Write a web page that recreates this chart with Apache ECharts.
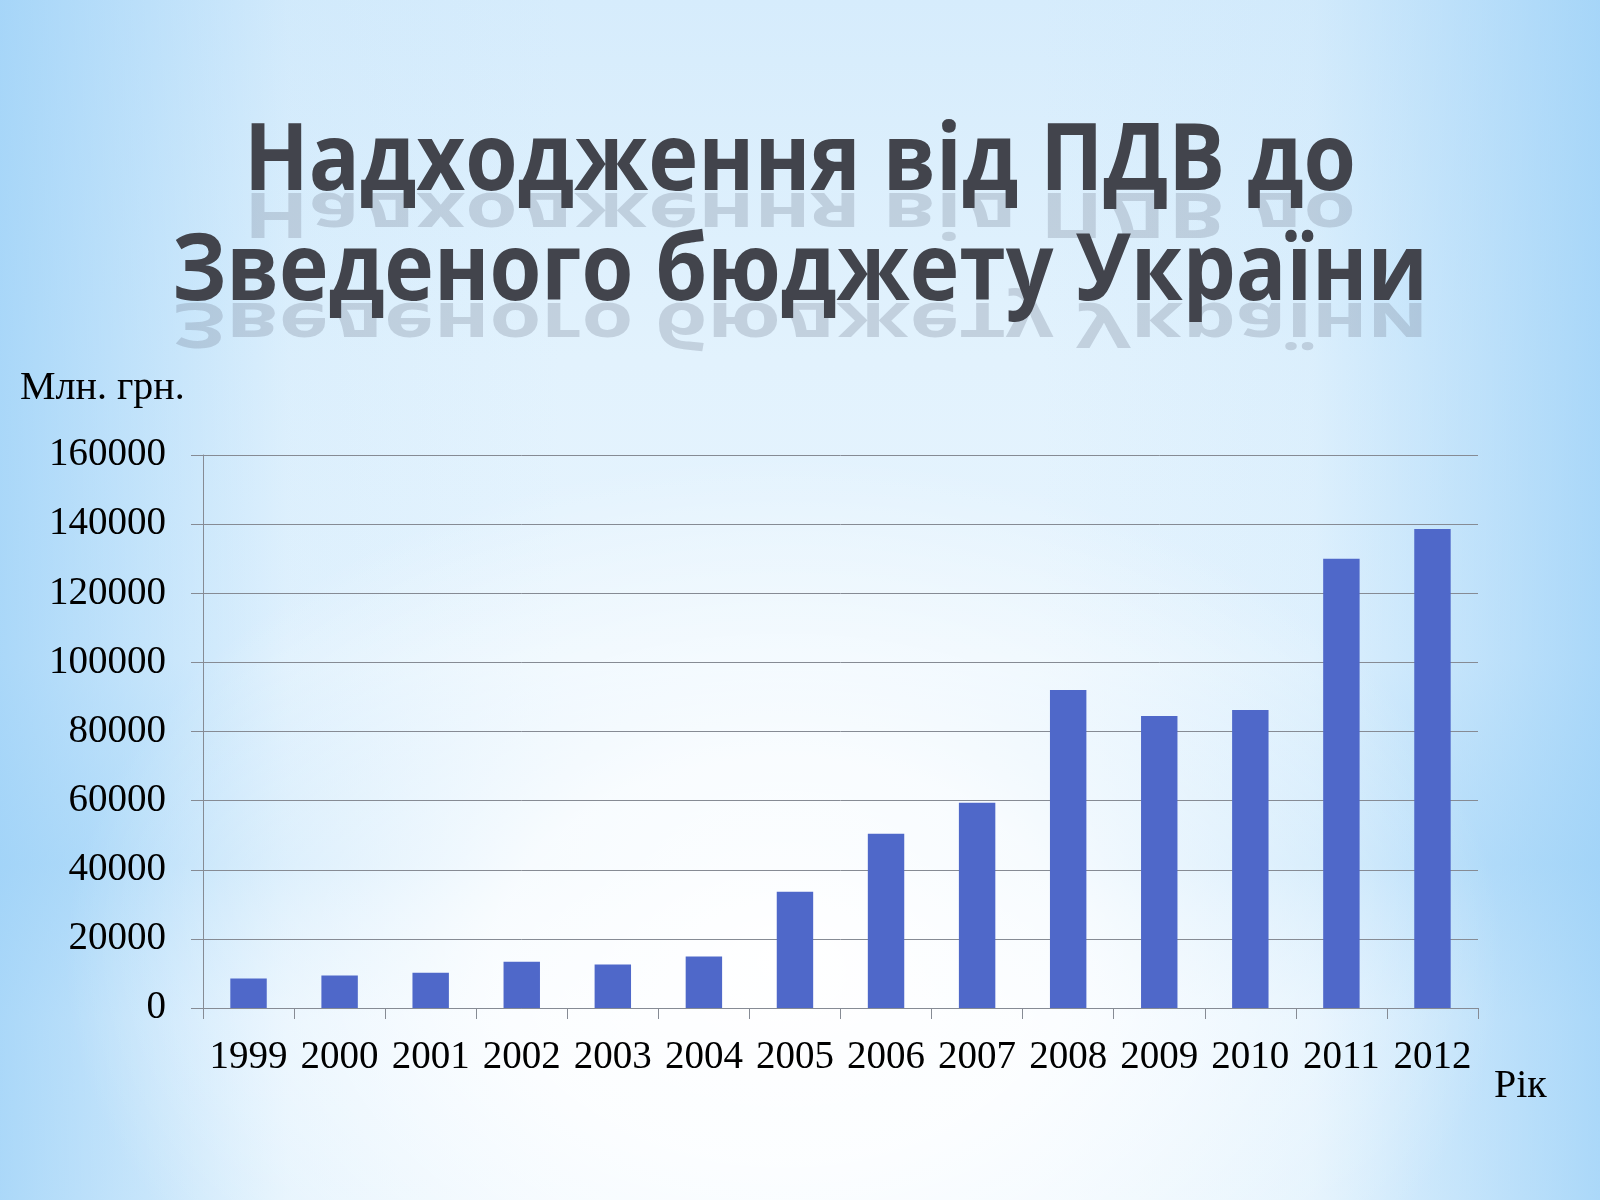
<!DOCTYPE html>
<html>
<head>
<meta charset="utf-8">
<script src="https://cdn.jsdelivr.net/npm/echarts@6/dist/echarts.min.js"></script>
<style>
html,body{margin:0;padding:0;width:1600px;height:1200px;overflow:hidden;}
body{background:
 radial-gradient(ellipse 45% 42% at 49% 80%, rgba(255,255,255,1) 0%, rgba(255,255,255,0.85) 40%, rgba(255,255,255,0) 100%),
 linear-gradient(90deg, rgba(150,206,247,0.75) 0%, rgba(190,225,250,0.2) 18%, rgba(255,255,255,0) 35%, rgba(255,255,255,0) 65%, rgba(190,225,250,0.2) 82%, rgba(150,206,247,0.75) 100%),
 linear-gradient(180deg, #d6ecfc 0%, #e2f2fd 30%, #e6f4fe 55%, #c8e6fb 72%, #e6f4fe 85%, #eaf6fe 100%);
}
#chart{width:1600px;height:1200px;}
</style>
</head>
<body>
<div id="chart"></div>
<script>
const titleLines = ['Надходження від ПДВ до', 'Зведеного бюджету України'];
const yAxisName = 'Млн. грн.';
const xAxisName = 'Рік';
const years = ['1999','2000','2001','2002','2003','2004','2005','2006','2007','2008','2009','2010','2011','2012'];
const vatRevenue = [8500, 9400, 10200, 13400, 12600, 14900, 33600, 50400, 59400, 92000, 84500, 86200, 130000, 138600];
const yMin = 0, yMax = 160000, yStep = 20000;

const chart = echarts.init(document.getElementById('chart'), null, {renderer:'canvas'});

const titleFont = 'bold 94px "Open Sans", "Noto Sans", "DejaVu Sans", sans-serif';
const targetWidths = [1112, 1256];
const centers = [163.5, 273.5];
const baselines = [192, 302];
const mctx = document.createElement('canvas').getContext('2d');
mctx.font = titleFont;

const graphics = [];
titleLines.forEach((t, i) => {
  const w = mctx.measureText(t).width || targetWidths[i];
  const sx = targetWidths[i] / w;
  const d = baselines[i] - centers[i];
  graphics.push({
    type: 'text', x: 800, y: baselines[i], scaleX: sx, scaleY: -0.66, silent: true, z: 1,
    style: {
      text: t, x: 0, y: -d, font: titleFont, textAlign: 'center', textVerticalAlign: 'middle',
      fill: 'rgba(105,113,132,0.25)'
    }
  });
  graphics.push({
    type: 'text', x: 800, y: centers[i], scaleX: sx, silent: true, z: 2,
    style: {
      text: t, x: 0, y: 0, font: titleFont, textAlign: 'center', textVerticalAlign: 'middle',
      fill: '#42444c'
    }
  });
});
graphics.push({type:'text', left: 20, top: 368, silent:true,
  style:{text: yAxisName, font: '40px "Liberation Serif", serif', fill:'#000'}});
graphics.push({type:'text', left: 1494, top: 1066, silent:true,
  style:{text: xAxisName, font: '40px "Liberation Serif", serif', fill:'#000'}});

chart.setOption({
  backgroundColor: 'transparent',
  animation: false,
  graphic: graphics,
  grid: {left: 203, right: 122, top: 455, bottom: 192, containLabel: false},
  xAxis: {
    type: 'category', data: years, boundaryGap: true,
    axisLine: {lineStyle: {color: '#868b94', width: 1}},
    axisTick: {show: true, length: 11, lineStyle: {color: '#868b94'}},
    axisLabel: {color: '#000', fontFamily: '"Liberation Serif", serif', fontSize: 39, margin: 30, interval: 0}
  },
  yAxis: {
    type: 'value', min: yMin, max: yMax, interval: yStep,
    axisLine: {show: true, lineStyle: {color: '#868b94', width: 1}},
    axisTick: {show: true, length: 12, lineStyle: {color: '#868b94'}},
    splitLine: {show: true, lineStyle: {color: '#868b94', width: 1}},
    axisLabel: {color: '#000', fontFamily: '"Liberation Serif", serif', fontSize: 39, margin: 37,
      formatter: v => String(v)}
  },
  series: [{
    type: 'bar', data: vatRevenue, barWidth: '40%',
    itemStyle: {color: '#4f68c9'}
  }]
});
</script>
</body>
</html>
